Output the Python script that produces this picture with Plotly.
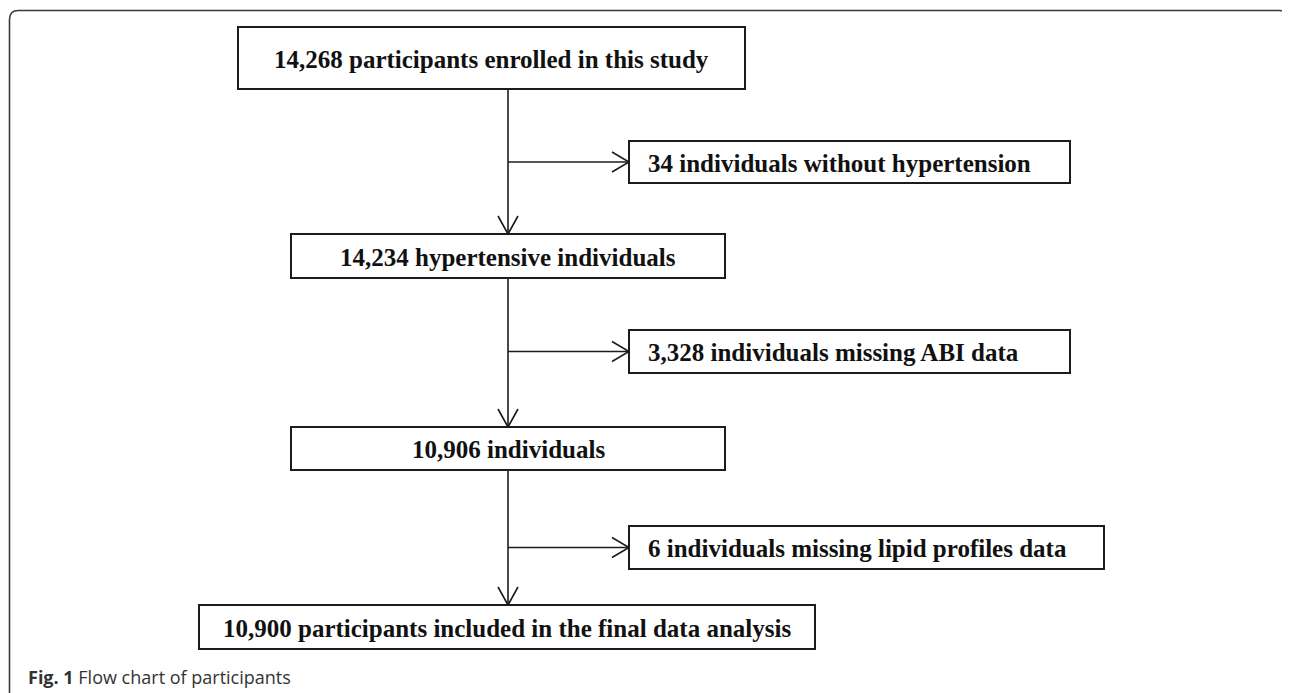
import plotly.graph_objects as go

# ---- content ----
main_labels = [
    "14,268 participants enrolled in this study",
    "14,234 hypertensive individuals",
    "10,906 individuals",
    "10,900 participants included in the final data analysis",
]
excl_labels = [
    "34 individuals without hypertension",
    "3,328 individuals missing ABI data",
    "6 individuals missing lipid profiles data",
]
caption_bold = "Fig. 1"
caption_text = "Flow chart of participants"

# ---- layout geometry (page pixel coordinates) ----
W, H = 1290, 693
PAD = 8  # default body margin of the html page
main_x0 = [238, 291, 291, 199]
main_x1 = [745, 725, 725, 815]
main_y0 = [27, 234, 427, 605]
main_y1 = [89, 278, 470, 649]
excl_x0 = [629, 629, 629]
excl_x1 = [1070, 1070, 1104]
excl_y0 = [141, 330, 526]
excl_y1 = [183, 373, 569]
spine_x = 508
text_left = 646

BOX = "#1c1c1c"
SERIF = "Liberation Serif"

fig = go.Figure()
shapes = []
annotations = []

# outer rounded frame
r = 9
fx0, fy0, fx1, fy1 = 9.5, 10.5, 1288.5, 720
shapes.append(dict(
    type="path", xref="x", yref="y",
    path=(f"M {fx0},{fy1} L {fx0},{fy0 + r} Q {fx0},{fy0} {fx0 + r},{fy0} "
          f"L {fx1 - r},{fy0} Q {fx1},{fy0} {fx1},{fy0 + r} L {fx1},{fy1}"),
    line=dict(color="#3a3a3a", width=1.6),
))

# main boxes
for lab, x0, x1, y0, y1 in zip(main_labels, main_x0, main_x1, main_y0, main_y1):
    shapes.append(dict(type="rect", xref="x", yref="y", x0=x0, x1=x1, y0=y0, y1=y1,
                       line=dict(color=BOX, width=2), fillcolor="white", layer="above"))
    annotations.append(dict(x=(x0 + x1) / 2, y=(y0 + y1) / 2 + 1, xref="x", yref="y",
                            text=lab, showarrow=False, xanchor="center", yanchor="middle",
                            font=dict(family=SERIF, size=25, color="#111", weight="bold")))

# exclusion boxes
for lab, x0, x1, y0, y1 in zip(excl_labels, excl_x0, excl_x1, excl_y0, excl_y1):
    shapes.append(dict(type="rect", xref="x", yref="y", x0=x0, x1=x1, y0=y0, y1=y1,
                       line=dict(color=BOX, width=2), fillcolor="white", layer="above"))
    annotations.append(dict(x=text_left, y=(y0 + y1) / 2 + 1, xref="x", yref="y",
                            text=lab, showarrow=False, xanchor="left", yanchor="middle",
                            font=dict(family=SERIF, size=25, color="#111", weight="bold")))

# connectors (spine segments, side arrows, open arrowheads)
lx, ly = [], []
for i in range(3):
    top = main_y1[i]
    bot = main_y0[i + 1]
    lx += [spine_x, spine_x, None]
    ly += [top, bot, None]
    lx += [spine_x - 10, spine_x, spine_x + 10, None]
    ly += [bot - 18, bot, bot - 18, None]
    cy = (excl_y0[i] + excl_y1[i]) / 2
    ex = excl_x0[i]
    lx += [spine_x, ex, None]
    ly += [cy, cy, None]
    lx += [ex - 17, ex, ex - 17, None]
    ly += [cy - 10, cy, cy + 10, None]

fig.add_trace(go.Scatter(x=lx, y=ly, mode="lines", line=dict(color=BOX, width=1.6),
                         hoverinfo="skip", showlegend=False))

# caption
annotations.append(dict(x=26, y=677, xref="x", yref="y", showarrow=False,
                        xanchor="left", yanchor="middle",
                        text=f"<b>{caption_bold}</b> {caption_text}",
                        font=dict(family="Open Sans", size=18, color="#333")))

fig.update_layout(
    width=W - PAD, height=H - PAD,
    margin=dict(l=0, r=0, t=0, b=0),
    paper_bgcolor="white", plot_bgcolor="white",
    xaxis=dict(range=[PAD, W], visible=False, fixedrange=True),
    yaxis=dict(range=[H, PAD], visible=False, fixedrange=True),
    shapes=shapes, annotations=annotations,
    showlegend=False,
)

fig.write_html("out.html")
